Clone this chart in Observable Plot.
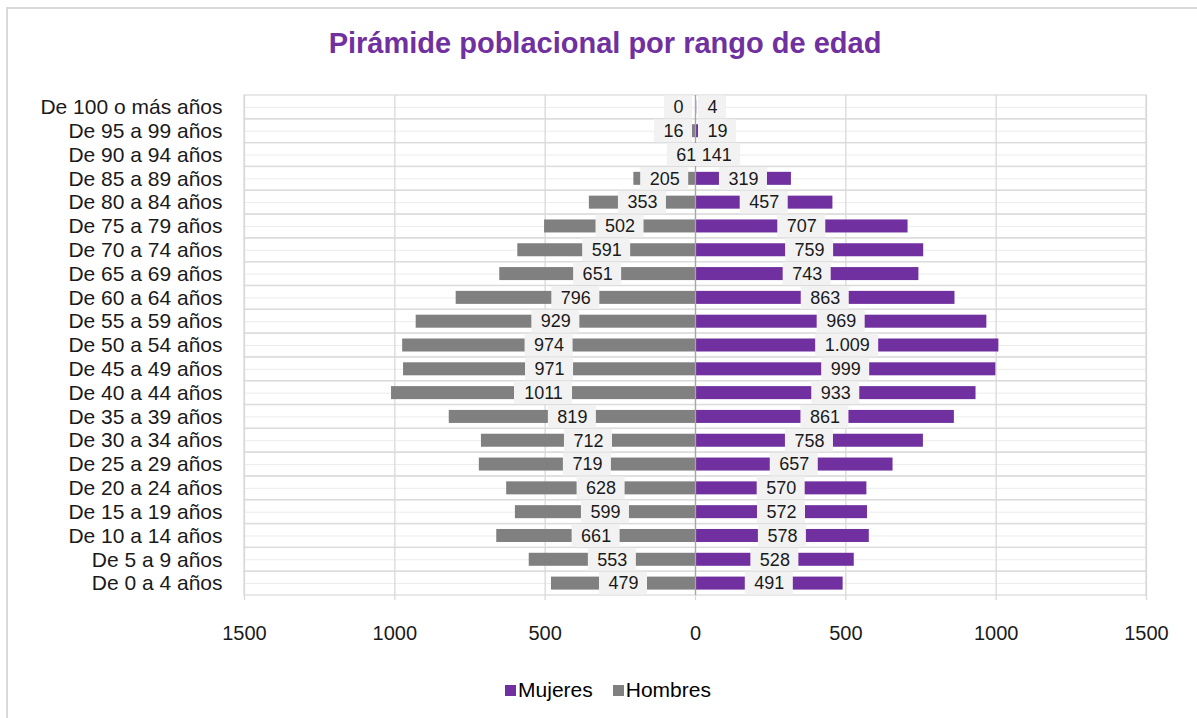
<!DOCTYPE html>
<html>
<head>
<meta charset="utf-8">
<script src="https://cdn.jsdelivr.net/npm/d3@7"></script>
<script src="https://cdn.jsdelivr.net/npm/@observablehq/plot@0.6"></script>
<style>
  html, body { margin: 0; padding: 0; background: #fff; }
  body { width: 1197px; height: 718px; position: relative; overflow: hidden; font-family: "Liberation Sans", Arial, sans-serif; }
  #frame { position: absolute; left: 6px; top: 7px; width: 1200px; height: 730px; border: 2px solid #d9d9d9; box-sizing: border-box; }
  #title { position: absolute; left: 0; width: 1210px; top: 27px; text-align: center; font-weight: bold; font-size: 29px; color: #7030a0; }
  #chart { position: absolute; left: 0; top: 0; }
  #legend { position: absolute; top: 678px; left: 0; width: 1216px; text-align: center; font-size: 21px; color: #000; }
  #legend span.item { display: inline-block; margin: 0 10px; }
  #legend span.sw { display: inline-block; width: 11px; height: 11px; margin-right: 2px; vertical-align: 1px; }
</style>
</head>
<body>
<div id="frame"></div>
<div id="chart"></div>
<div id="title">Pirámide poblacional por rango de edad</div>
<div id="legend"></div>
<script>
const categories = [
  "De 100 o más años", "De 95 a 99 años", "De 90 a 94 años", "De 85 a 89 años",
  "De 80 a 84 años", "De 75 a 79 años", "De 70 a 74 años", "De 65 a 69 años",
  "De 60 a 64 años", "De 55 a 59 años", "De 50 a 54 años", "De 45 a 49 años",
  "De 40 a 44 años", "De 35 a 39 años", "De 30 a 34 años", "De 25 a 29 años",
  "De 20 a 24 años", "De 15 a 19 años", "De 10 a 14 años", "De 5 a 9 años",
  "De 0 a 4 años"
];
const hombres = [0, 16, 61, 205, 353, 502, 591, 651, 796, 929, 974, 971, 1011, 819, 712, 719, 628, 599, 661, 553, 479];
const mujeres = [4, 19, 141, 319, 457, 707, 759, 743, 863, 969, 1009, 999, 933, 861, 758, 657, 570, 572, 578, 528, 491];
const xTicks = [-1500, -1000, -500, 0, 500, 1000, 1500];
const series = ["Mujeres", "Hombres"];
const colors = ["#7030a0", "#808080"];

const esFormat = d3.formatLocale({decimal: ",", thousands: ".", grouping: [3], currency: ["", "€"]}).format(",");

const W = 1197, ML = 244, MR = 51, MT = 95, MB = 63, H = 658;
const k = 3000 / (W - ML - MR); // data units per pixel
const LABEL_FS = 18;

const rows = [];
categories.forEach((c, i) => {
  rows.push({cat: c, sexo: "Hombres", v: -hombres[i], label: String(hombres[i])});
  rows.push({cat: c, sexo: "Mujeres", v: mujeres[i], label: esFormat(mujeres[i])});
});
const charW = ch => (ch === "." ? 0.278 : 0.556) * LABEL_FS;
rows.forEach(d => {
  const tw = [...d.label].reduce((s, ch) => s + charW(ch), 0);
  const half = (tw + 18) / 2 * k;
  const sign = d.sexo === "Hombres" ? -1 : 1;
  let cx = d.v / 2;
  if (Math.abs(d.v) < 30) cx = sign * (half + 3 * k);
  d.cx = cx; d.bx1 = cx - half; d.bx2 = cx + half;
});

const chart = Plot.plot({
  width: W, height: H,
  marginLeft: ML, marginRight: MR, marginTop: MT, marginBottom: MB,
  style: {fontFamily: "Liberation Sans, Arial, sans-serif", background: "transparent"},
  x: {domain: [-1500, 1500], ticks: xTicks, tickFormat: d => String(Math.abs(d))},
  y: {domain: categories, padding: 0, round: false},
  marks: [
    Plot.barX(categories, {x1: -1500, x2: 1500, y: d => d, fill: "none", stroke: "#dcdcdc", strokeWidth: 1.3}),
    Plot.ruleY(categories, {y: d => d, x1: -1500, x2: 1500, stroke: "#ececec", strokeWidth: 1}),
    Plot.ruleX(xTicks, {x: d => d, stroke: "#d9d9d9", strokeWidth: 1.3, insetBottom: -5}),
    Plot.barX(rows, {x1: 0, x2: "v", y: "cat", fill: d => d.sexo === "Mujeres" ? colors[0] : colors[1], insetTop: 5.4, insetBottom: 5.4}),
    Plot.ruleX([0], {stroke: "#a6a6a6", strokeWidth: 1.3}),
    Plot.barX(rows, {x1: "bx1", x2: "bx2", y: "cat", fill: "#f2f2f2", insetTop: 0.5, insetBottom: 0.5}),
    Plot.text(rows, {x: "cx", y: "cat", text: "label", fontSize: LABEL_FS, fill: "#1a1a1a"}),
    Plot.axisX({ticks: xTicks, tickFormat: d => String(Math.abs(d)), tickSize: 0, tickPadding: 30, fontSize: 20, fill: "#1a1a1a", label: null}),
    Plot.axisY({tickSize: 0, tickPadding: 22, fontSize: 21, fill: "#1a1a1a", label: null})
  ]
});
document.getElementById("chart").appendChild(chart);

const legend = document.getElementById("legend");
series.forEach((s, i) => {
  const item = document.createElement("span");
  item.className = "item";
  const sw = document.createElement("span");
  sw.className = "sw";
  sw.style.background = colors[i];
  item.appendChild(sw);
  item.appendChild(document.createTextNode(s));
  legend.appendChild(item);
});
</script>
</body>
</html>
